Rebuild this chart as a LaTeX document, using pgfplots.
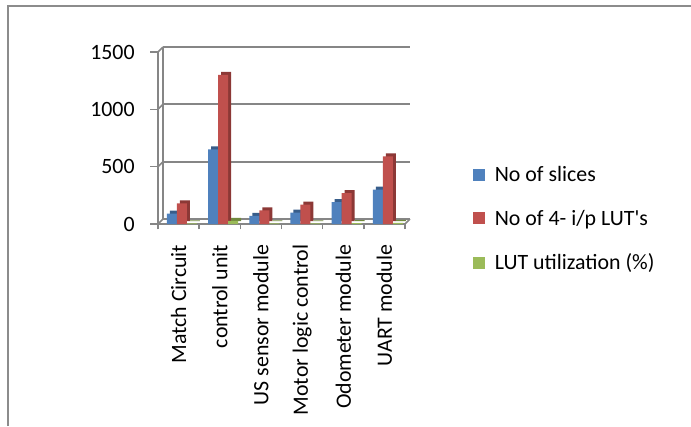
\documentclass[border=0pt]{standalone}
\usepackage{pgfplots}
\pgfplotsset{compat=1.18}
\usepackage{fontspec}
\setmainfont{Carlito}
\definecolor{sblue}{HTML}{4F81BD}
\definecolor{sblueD}{HTML}{385D8A}
\definecolor{sred}{HTML}{C0504D}
\definecolor{sredD}{HTML}{8C3836}
\definecolor{sgreen}{HTML}{9BBB59}
\definecolor{sgreenD}{HTML}{71893F}
\definecolor{axgray}{HTML}{868686}
\definecolor{framegray}{HTML}{8C8C8C}
\begin{document}
\begin{tikzpicture}
\path[use as bounding box] (0,0) rectangle (518.25pt,-319.5pt);
\draw[framegray, line width=1.3pt] (6pt,-319.5pt) -- (6pt,-4.5pt) -- (518.25pt,-4.5pt);
\begin{axis}[
  at={(118.5pt,-168pt)}, anchor=south west,
  scale only axis, width=185.25pt, height=129pt,
  xmin=-0.5, xmax=5.5, ymin=0, ymax=1500,
  clip=false,
  axis lines*=left,
  axis line style={axgray, line width=1.5pt, -},
  ytick={0,500,1000,1500},
  /pgf/number format/assume math mode=true,
  /pgf/number format/1000 sep={},
  xtick={0,1,2,3,4,5},
  xticklabels={Match Circuit, control unit, US sensor module, Motor logic control, Odometer module, UART module},
  minor xtick={-0.5,0.5,1.5,2.5,3.5,4.5,5.5},
  tick align=outside,
  major tick length=6pt, minor tick length=4pt,
  major x tick style={draw=none},
  tick style={axgray, line width=1.2pt},
  ymajorgrids,
  major grid style={axgray, line width=1.5pt, xshift=3.75pt, yshift=3.75pt},
  ticklabel style={font=\fontsize{16.4}{19}\selectfont},
  yticklabel style={xshift=-8pt},
  xticklabel style={rotate=90, anchor=east},
  xticklabel shift=6pt,
  legend style={draw=none, fill=none, at={(1.26,0.03)}, anchor=west,
    font=\fontsize{16.4}{19}\selectfont, row sep=16pt, column sep=5pt, legend cell align=left},
  legend image code/.code={\fill[#1] (0pt,-4.5pt) rectangle (9pt,4.5pt);},
]
% back wall vertical line and tick connectors
\draw[axgray, line width=1.5pt] ([xshift=3.75pt,yshift=3.75pt]axis cs:-0.5,0) -- ([xshift=3.75pt,yshift=3.75pt]axis cs:-0.5,1500);
\draw[axgray, line width=1.2pt] (axis cs:-0.5,0) -- ([xshift=3.75pt,yshift=3.75pt]axis cs:-0.5,0);
\draw[axgray, line width=1.2pt] (axis cs:-0.5,500) -- ([xshift=3.75pt,yshift=3.75pt]axis cs:-0.5,500);
\draw[axgray, line width=1.2pt] (axis cs:-0.5,1000) -- ([xshift=3.75pt,yshift=3.75pt]axis cs:-0.5,1000);
\draw[axgray, line width=1.2pt] (axis cs:-0.5,1500) -- ([xshift=3.75pt,yshift=3.75pt]axis cs:-0.5,1500);
\draw[axgray, line width=1.2pt] (axis cs:5.5,0) -- ([xshift=3.75pt,yshift=3.75pt]axis cs:5.5,0);

\addplot[ybar, bar width=7.5pt, bar shift=-5pt, fill=sblueD, draw=none, xshift=2.25pt, yshift=2.25pt, forget plot]
  coordinates {(0,90) (1,650) (2,70) (3,100) (4,190) (5,300)};
\addplot[ybar, bar width=7.5pt, bar shift=-5pt, fill=sblue, draw=none]
  coordinates {(0,90) (1,650) (2,70) (3,100) (4,190) (5,300)};
\addlegendentry{No of slices}
\addplot[ybar, bar width=7.5pt, bar shift=2.5pt, fill=sredD, draw=none, xshift=2.25pt, yshift=2.25pt, forget plot]
  coordinates {(0,180) (1,1300) (2,120) (3,170) (4,270) (5,590)};
\addplot[ybar, bar width=7.5pt, bar shift=2.5pt, fill=sred, draw=none]
  coordinates {(0,180) (1,1300) (2,120) (3,170) (4,270) (5,590)};
\addlegendentry{No of 4- i/p LUT\textquotesingle s}
\addplot[ybar, bar width=7.5pt, bar shift=10pt, fill=sgreenD, draw=none, xshift=2.25pt, yshift=2.25pt, forget plot]
  coordinates {(0,6) (1,27) (2,5) (3,6) (4,8) (5,10)};
\addplot[ybar, bar width=7.5pt, bar shift=10pt, fill=sgreen, draw=none]
  coordinates {(0,6) (1,27) (2,5) (3,6) (4,8) (5,10)};
\addlegendentry{LUT utilization (\%)}
\end{axis}
\end{tikzpicture}
\end{document}
